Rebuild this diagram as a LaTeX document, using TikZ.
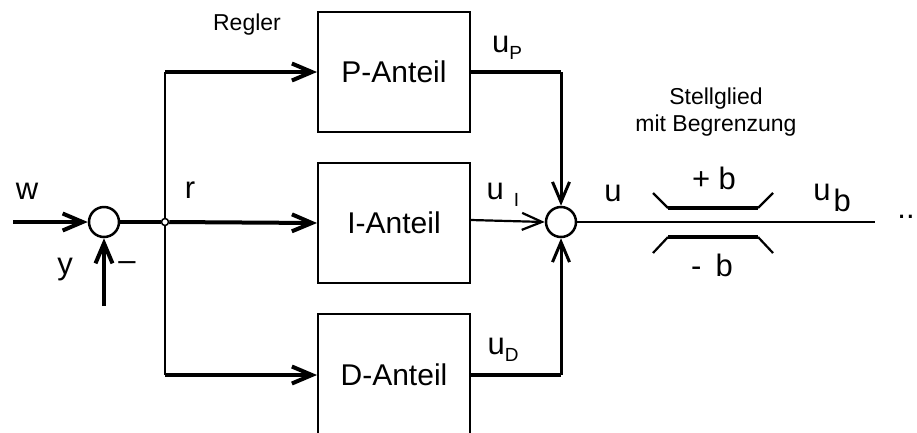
\documentclass[tikz,border=0pt]{standalone}
\usepackage{fontspec}
\setmainfont{Liberation Sans}
\usetikzlibrary{arrows.meta,positioning}

\tikzset{
  block/.style={draw, line width=2pt, minimum width=152pt, minimum height=120pt,
    inner sep=0pt, font=\fontsize{30}{34}\selectfont},
  sumpt/.style={draw, circle, line width=2.5pt, minimum size=30pt, inner sep=0pt},
  sig/.style={line width=4pt},
  thinsig/.style={line width=2.2pt},
  lab/.style={font=\fontsize{31}{35}\selectfont, inner sep=0pt},
  note/.style={font=\fontsize{23}{27}\selectfont, inner sep=0pt, align=center},
}
\newcommand{\subtxt}[1]{\raisebox{-7pt}{\fontsize{19}{22}\selectfont #1}}

\begin{document}
\begin{tikzpicture}[x=1pt, y=-1pt, >={Straight Barb[length=20pt,width=17pt]}]
    \useasboundingbox (0,0) rectangle (917,432);

    % Vergleichsstelle
    \node[sumpt] (sum1) at (104,222) {};
    \coordinate (win) at (13,222);
    \coordinate (yin) at (104,306);
    \draw[sig,->] (win) -- (sum1.west);
    \draw[sig,->] (yin) -- (sum1.south);
    \node[circle, draw, line width=1.5pt, minimum size=7pt, inner sep=0pt] (branch) at (165,222) {};
    \draw[sig] (sum1.east) -- (branch.west);

    % Regler
    \node[block] (pblk) at (394,72) {P-Anteil};
    \node[block] (iblk) at (394,223) {I-Anteil};
    \node[block, minimum height=122pt] (dblk) at (394,375) {D-Anteil};

    \coordinate (btop) at (165,72);
    \coordinate (bbot) at (165,375);
    \draw[thinsig] (branch.north) -- (btop);
    \draw[thinsig] (branch.south) -- (bbot);
    \draw[sig,->] (btop) -- (pblk.west);
    \draw[sig,->] (branch.east) -- (iblk.west);
    \draw[sig,->] (bbot) -- (dblk.west);

    % Summation
    \node[sumpt] (sum2) at (561,222) {};
    \coordinate (ptop) at (561,72);
    \coordinate (dbot) at (561,375);
    \draw[sig] (pblk.east) -- (ptop);
    \draw[line width=3pt,->] (ptop) -- (sum2.north);
    \draw[thinsig,->] ([yshift=3pt]iblk.east) -- (sum2.west);
    \draw[sig] (dblk.east) -- (dbot);
    \draw[line width=3pt,->] (dbot) -- (sum2.south);

    % Stellglied
    \coordinate (uout) at (875,222);
    \draw[thinsig] (sum2.east) -- (uout);
    \draw[thinsig] (653,193) -- (668,208);
    \draw[sig] (668,208) -- (758,208);
    \draw[thinsig] (758,208) -- (773,193);
    \draw[thinsig] (653,253) -- (668,237);
    \draw[sig] (668,237) -- (758,237);
    \draw[thinsig] (758,237) -- (773,253);

    % Beschriftung
    \node[note] (regler) at (247,25) {Regler};
    \node[note] (stell) at (716,112) {Stellglied\\mit Begrenzung};
    \node[lab] (lw) at (27,191) {w};
    \node[lab] (ly) at (65,270) {y};
    \node[lab] (lminus) at (127,266) {–};
    \node[lab] (lr) at (190,190) {r};
    \node[lab] (lup) at (507,48) {u\subtxt{P}};
    \node[lab] (lui) at (503,195) {u\hspace{10pt}\subtxt{I}};
    \node[lab] (lud) at (503,350) {u\subtxt{D}};
    \node[lab] (lu) at (613,193) {u};
    \node[lab] (lpb) at (714,178) {+ b};
    \node[lab] (lmb) at (712,265) {-\hspace{14pt}b};
    \node[lab] (lub) at (832,198) {u\hspace{3pt}\raisebox{-11pt}{b}};
    \node[lab] (ldots) at (906,217) {..};
\end{tikzpicture}
\end{document}
